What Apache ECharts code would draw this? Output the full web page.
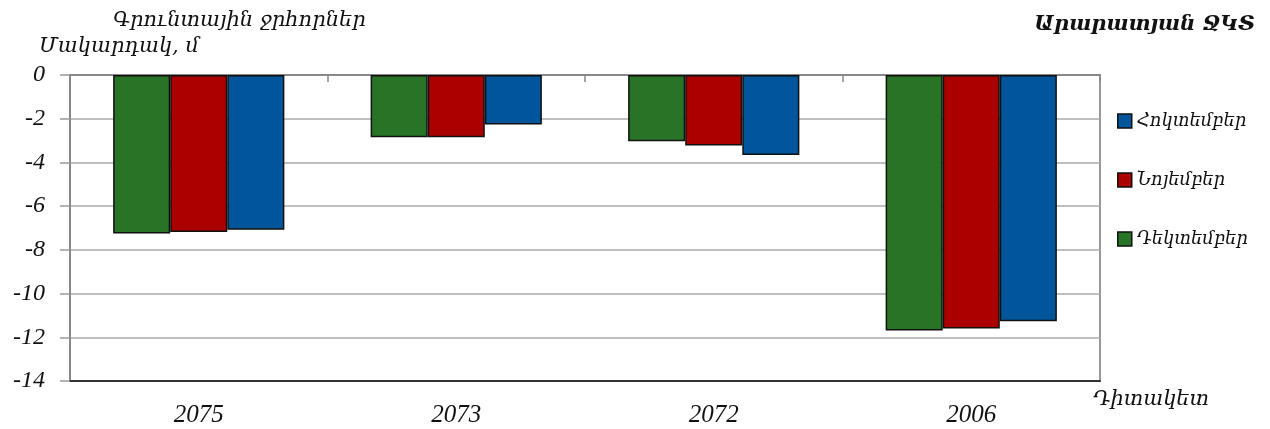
<!DOCTYPE html>
<html>
<head>
<meta charset="utf-8">
<script src="https://cdn.jsdelivr.net/npm/echarts@6/dist/echarts.min.js"></script>
<style>
  html, body { margin: 0; padding: 0; background: #fff; }
  #chart { width: 1270px; height: 429px; }
</style>
</head>
<body>
<div id="chart"></div>
<script>
// Groundwater well levels (m) at observation points, Ararat valley
const wells = ['2075', '2073', '2072', '2006'];
const december = [-7.25, -2.85, -3.03, -11.69];
const november = [-7.18, -2.85, -3.22, -11.60];
const october  = [-7.08, -2.26, -3.66, -11.27];
const yTicks = { min: -14, max: 0, step: 2 };

const numFont = 'Liberation Serif';
const armFont = 'DejaVu Serif';

const chart = echarts.init(document.getElementById('chart'));

const barStyle = (color) => ({ color: color, borderColor: '#111', borderWidth: 1.5 });
const armText = (size, weight) => ({
  fontFamily: armFont, fontStyle: 'italic', fontWeight: weight || 'normal', fontSize: size, color: '#111'
});

chart.setOption({
  animation: false,
  backgroundColor: '#fff',
  title: [
    { text: 'Գրունտային ջրհորներ', left: 108, top: 5, textStyle: armText(21) },
    { text: 'Մակարդակ, մ', left: 34, top: 31, textStyle: armText(21) },
    { text: 'Արարատյան ՋԿՏ', right: 10, top: 9, textStyle: armText(21, 'bold') },
    { text: 'Դիտակետ', left: 1088, top: 384, textStyle: armText(21) }
  ],
  legend: {
    orient: 'vertical',
    left: 1112,
    top: 107,
    itemGap: 41,
    itemWidth: 14,
    itemHeight: 14,
    icon: 'rect',
    data: ['Հոկտեմբեր', 'Նոյեմբեր', 'Դեկտեմբեր'],
    textStyle: armText(18),
    itemStyle: { borderColor: '#111', borderWidth: 1.5 }
  },
  grid: { left: 70, right: 170, top: 75, bottom: 48, show: true, borderColor: '#777', borderWidth: 1.5, containLabel: false },
  xAxis: [
    {
      type: 'category',
      data: wells,
      position: 'bottom',
      axisLine: { onZero: false, lineStyle: { color: '#333', width: 2 } },
      axisTick: { show: false },
      axisLabel: { fontFamily: numFont, fontStyle: 'italic', fontSize: 25, color: '#111', margin: 22 }
    },
    {
      type: 'category',
      data: wells,
      position: 'top',
      axisLine: { onZero: false, lineStyle: { color: '#888', width: 2 } },
      axisTick: { show: true, inside: true, length: 7, lineStyle: { color: '#888', width: 1.5 } },
      axisLabel: { show: false }
    }
  ],
  yAxis: {
    type: 'value',
    min: yTicks.min,
    max: yTicks.max,
    interval: yTicks.step,
    axisLine: { show: true, lineStyle: { color: '#888', width: 2 } },
    axisTick: { show: true, length: 10, lineStyle: { color: '#999', width: 1.5 } },
    splitLine: { lineStyle: { color: '#aaa', width: 1.5 } },
    axisLabel: { fontFamily: numFont, fontStyle: 'italic', fontSize: 24, color: '#111', margin: 25 }
  },
  series: [
    { name: 'Դեկտեմբեր', type: 'bar', data: december, itemStyle: barStyle('#277427'),
      barGap: '0%', barCategoryGap: '33.5%' },
    { name: 'Նոյեմբեր', type: 'bar', data: november, itemStyle: barStyle('#aa0000'),
      barGap: '0%', barCategoryGap: '33.5%' },
    { name: 'Հոկտեմբեր', type: 'bar', data: october, itemStyle: barStyle('#00559b'),
      barGap: '0%', barCategoryGap: '33.5%' }
  ]
});
</script>
</body>
</html>
